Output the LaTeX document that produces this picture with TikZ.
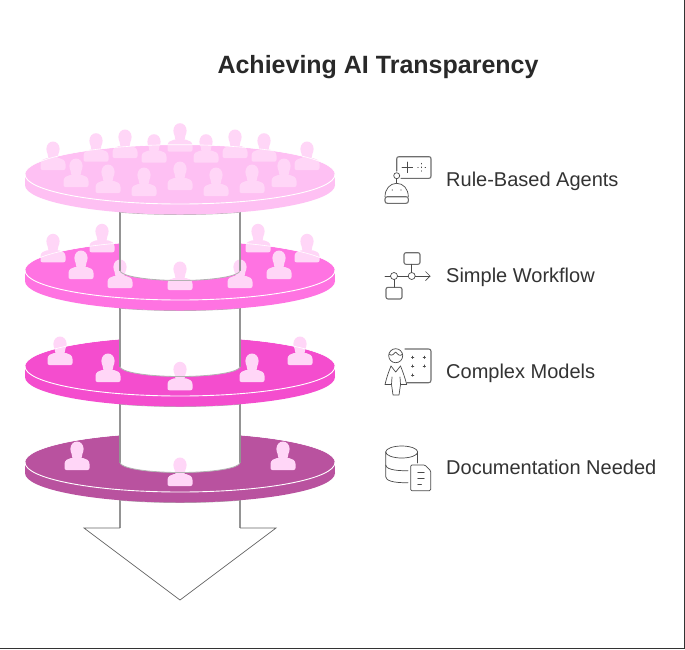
\documentclass[tikz,border=0pt]{standalone}
\usepackage{fontspec}
\setmainfont{Liberation Sans}
\definecolor{discA}{HTML}{FEC0F3}
\definecolor{discB}{HTML}{FF73E2}
\definecolor{discC}{HTML}{F44DCE}
\definecolor{discD}{HTML}{B9529F}
\definecolor{persona}{HTML}{FFD6F7}
\definecolor{inktext}{HTML}{333333}
\definecolor{iconink}{HTML}{4A4A4A}
\tikzset{
  shaftline/.style={draw=black!42,line width=1.2pt},
  shaftrim/.style={draw=black!30,line width=.8pt},
  headline/.style={draw=black!60,line width=.7pt},
  rimline/.style={draw=white,line width=.9pt},
  icon/.style={draw=iconink,line width=.7pt,line cap=round,line join=round},
  iconbold/.style={draw=iconink!80,line width=1.1pt,line cap=round,line join=round},
  label/.style={anchor=base west,text=inktext,font=\fontsize{20}{24}\selectfont,inner sep=0pt},
  person/.pic={
    \fill[persona] (-10.5,0) .. controls (-11.8,0) and (-12.5,-.8) .. (-12.5,-2)
       -- (-12.5,-6) .. controls (-12.5,-10) and (-9,-11.2) .. (-6,-12)
       -- (6,-12) .. controls (9,-11.2) and (12.5,-10) .. (12.5,-6)
       -- (12.5,-2) .. controls (12.5,-.8) and (11.8,0) .. (10.5,0) -- cycle;
    \fill[persona] (-4.5,-11.5) .. controls (-4,-15) and (-6.6,-17) .. (-6.6,-21)
       .. controls (-6.6,-25.5) and (-3.5,-28.5) .. (0,-28.5)
       .. controls (3.5,-28.5) and (6.6,-25.5) .. (6.6,-21)
       .. controls (6.6,-17) and (4,-15) .. (4.5,-11.5) -- cycle;
  }
}
\newcommand{\discbody}[2]{%
  \begin{scope}
    \clip (120,#1) rectangle (240,#1+45);
    \draw[shaftrim] (180,#1+10.5) ellipse[x radius=155,y radius=29.5];
  \end{scope}
  \fill[#2] (25,#1) -- (25,#1+10.5) -- (335,#1+10.5) -- (335,#1) -- cycle;
  \fill[#2] (180,#1) ellipse[x radius=155,y radius=29.5];
  \fill[#2] (180,#1+10.5) ellipse[x radius=155,y radius=29.5];
}
\newcommand{\shaftfill}[2]{%
  \fill[white] (120,#1) -- (120,#2) .. controls (120,#2+5.5) and (146.9,#2+10) .. (180,#2+10)
     .. controls (213.1,#2+10) and (240,#2+5.5) .. (240,#2) -- (240,#1) -- cycle;
}
\newcommand{\shaftedge}[2]{%
  \draw[shaftline] (120,#1) -- (120,#2);
  \draw[shaftline] (240,#1) -- (240,#2);
  \draw[shaftrim] (120,#2) .. controls (120,#2+5.5) and (146.9,#2+10) .. (180,#2+10)
     .. controls (213.1,#2+10) and (240,#2+5.5) .. (240,#2);
}
\newcommand{\discrim}[1]{%
  \begin{scope}
    \clip (20,#1) rectangle (340,#1+40);
    \draw[rimline] (180,#1) ellipse[x radius=155,y radius=29.5];
  \end{scope}
  \begin{scope}
    \clip (20,#1-40) rectangle (340,#1);
    \draw[draw=white,line width=.6pt] (180,#1) ellipse[x radius=155.3,y radius=29.8];
  \end{scope}
}
\begin{document}
\begin{tikzpicture}[x=1pt,y=-1pt,line join=miter]
\useasboundingbox (0,0) rectangle (685,649);
\fill[white] (0,0) rectangle (685,649);
\draw[black!80,line width=1.2pt] (0,648.4) -- (684.4,648.4) -- (684.4,0);

% arrow
\fill[white] (120,490) -- (120,528) -- (84,528) -- (180,600) -- (276,528) -- (240,528) -- (240,490) -- cycle;
\draw[shaftline] (120,490) -- (120,528);
\draw[shaftline] (240,490) -- (240,528);
\draw[headline] (120,528) -- (84,528) -- (180,600) -- (276,528) -- (240,528);

% level 4
\discbody{462.5}{discD}
\shaftfill{380}{462.5}
\foreach \px/\py in {77/470,180/486,283/470} \pic at (\px,\py) {person};
\discrim{462.5}
\shaftedge{400}{462.5}

% level 3
\discbody{366.5}{discC}
\shaftfill{290}{366.5}
\foreach \px/\py in {60/365,108/382,180/390.3,252/382,300/365} \pic at (\px,\py) {person};
\discrim{366.5}
\shaftedge{300}{366.5}

% level 2
\discbody{270.5}{discB}
\shaftfill{190}{270.5}
\foreach \px/\py in {53/262.3,102/252.3,258/252.3,307/262.3,81/279,279/279,120/288,180/290,240/288} \pic at (\px,\py) {person};
\discrim{270.5}
\shaftedge{200}{270.5}

% level 1
\discbody{174.5}{discA}
\foreach \px/\py in {53/170,96/161.7,125/158,154/162.7,180/151.7,206/162.7,235/158,264/161.7,307/170,76/187,108/193,144/196,180/190,216/196,252/193,284/187} \pic at (\px,\py) {person};
\discrim{174.5}

% title and labels
\node[anchor=center,text=inktext!80!black,font=\fontsize{25}{30}\selectfont\bfseries,inner sep=0pt] (title) at (378,67.5) {Achieving AI Transparency};
\node[label] (lblA) at (446,186) {Rule-Based Agents};
\node[label] (lblB) at (446,282) {Simple Workflow};
\node[label] (lblC) at (446,378) {Complex Models};
\node[label] (lblD) at (446,474) {Documentation Needed};

% robot icon
\draw[iconbold] (396.7,171) -- (396.7,159) .. controls (396.7,157.5) and (397.5,156.7) .. (399,156.7) -- (429,156.7) .. controls (430.5,156.7) and (431,157.5) .. (431,159) -- (431,176) .. controls (431,177.5) and (430.5,178.3) .. (429,178.3) -- (401,178.3);
\draw[icon] (402,167.3) -- (412.6,167.3) (407.3,162) -- (407.3,172.6);
\draw[icon] (417.7,167.3) -- (418.3,167.3) (425,167.3) -- (425.6,167.3) (421.7,163.3) -- (421.7,163.9) (421.7,170.7) -- (421.7,171.3) (421.7,166.9) -- (421.7,167.7);
\draw[icon] (396.7,175.7) circle[radius=3];
\draw[icon] (396.7,178.7) -- (396.7,183.3);
\draw[icon] (385,196.7) .. controls (385,189) and (390,183.3) .. (396.7,183.3) .. controls (403.4,183.3) and (408.3,189) .. (408.3,196.7);
\draw[iconbold] (387.5,196.7) -- (406,196.7) .. controls (407.6,196.7) and (408.3,197.4) .. (408.3,199) -- (408.3,201) .. controls (408.3,202.6) and (407.6,203.3) .. (406,203.3) -- (387.5,203.3) .. controls (385.8,203.3) and (385,202.6) .. (385,201) -- (385,199) .. controls (385,197.4) and (385.8,196.7) .. (387.5,196.7);
\fill[iconink] (392.3,190) circle[radius=.6] (401,190) circle[radius=.6];

% workflow icon
\draw[iconbold,rounded corners=2pt] (404,252.7) rectangle (420,264.3);
\draw[iconbold,rounded corners=2pt] (386,287.3) rectangle (402,299);
\draw[icon] (411.7,264.3) -- (411.7,272.5);
\draw[icon] (394,279.5) -- (394,287.3);
\draw[icon] (385,276) -- (390.5,276) (397.5,276) -- (408.2,276) (415.2,276) -- (430,276);
\draw[icon] (425.5,271.5) -- (430,276) -- (425.5,280.5);
\draw[icon] (394,276) circle[radius=3.5];
\draw[icon] (411.7,276) circle[radius=3.5];

% modelling icon
\draw[iconbold] (405,349) -- (428.5,349) .. controls (430.3,349) and (431,349.8) .. (431,351.5) -- (431,380) .. controls (431,381.8) and (430.3,382.7) .. (428.5,382.7) -- (407,382.7);
\foreach \dx/\dy in {412.7/357.3,424.3/357.3,412.7/366,424.3/366,412.7/375} {
  \draw[icon,line width=.6pt] (\dx-1.2,\dy) -- (\dx+1.2,\dy) (\dx,\dy-1.2) -- (\dx,\dy+1.2);
}
\draw[icon] (395.7,355.7) circle[radius=7];
\draw[icon] (389,354) .. controls (392,357) and (394,353.5) .. (395.7,352) .. controls (398,354.5) and (400,357) .. (402.6,354);
\draw[icon] (391,366) -- (395.7,372) -- (400.5,366);
\draw[icon] (391,366) .. controls (388.5,372) and (386.5,378) .. (385,384.5) -- (391.5,384.5) -- (393,395) -- (399,395) -- (400.5,384.5) -- (406.7,384.5) .. controls (405,378) and (403,372) .. (400.5,366);
\draw[icon] (391.5,384.5) -- (392,377) (400.5,384.5) -- (400,377);

% database icon
\draw[icon] (401.7,452) ellipse[x radius=16,y radius=6];
\draw[icon] (385.7,452) -- (385.7,476.7) .. controls (385.7,480.5) and (393,483) .. (408,482.7);
\draw[icon] (417.7,452) -- (417.7,463);
\draw[icon] (385.7,465) .. controls (385.7,468.5) and (393,471) .. (408,470.7);
\draw[icon,rounded corners=1.2pt] (410.7,465) -- (425,465) -- (430.7,470.7) -- (430.7,490.7) -- (410.7,490.7) -- cycle;
\draw[icon] (417.7,472.3) -- (424.3,472.3) (417.7,478.3) -- (424.3,478.3) (417.7,484) -- (421.5,484);
\end{tikzpicture}
\end{document}
